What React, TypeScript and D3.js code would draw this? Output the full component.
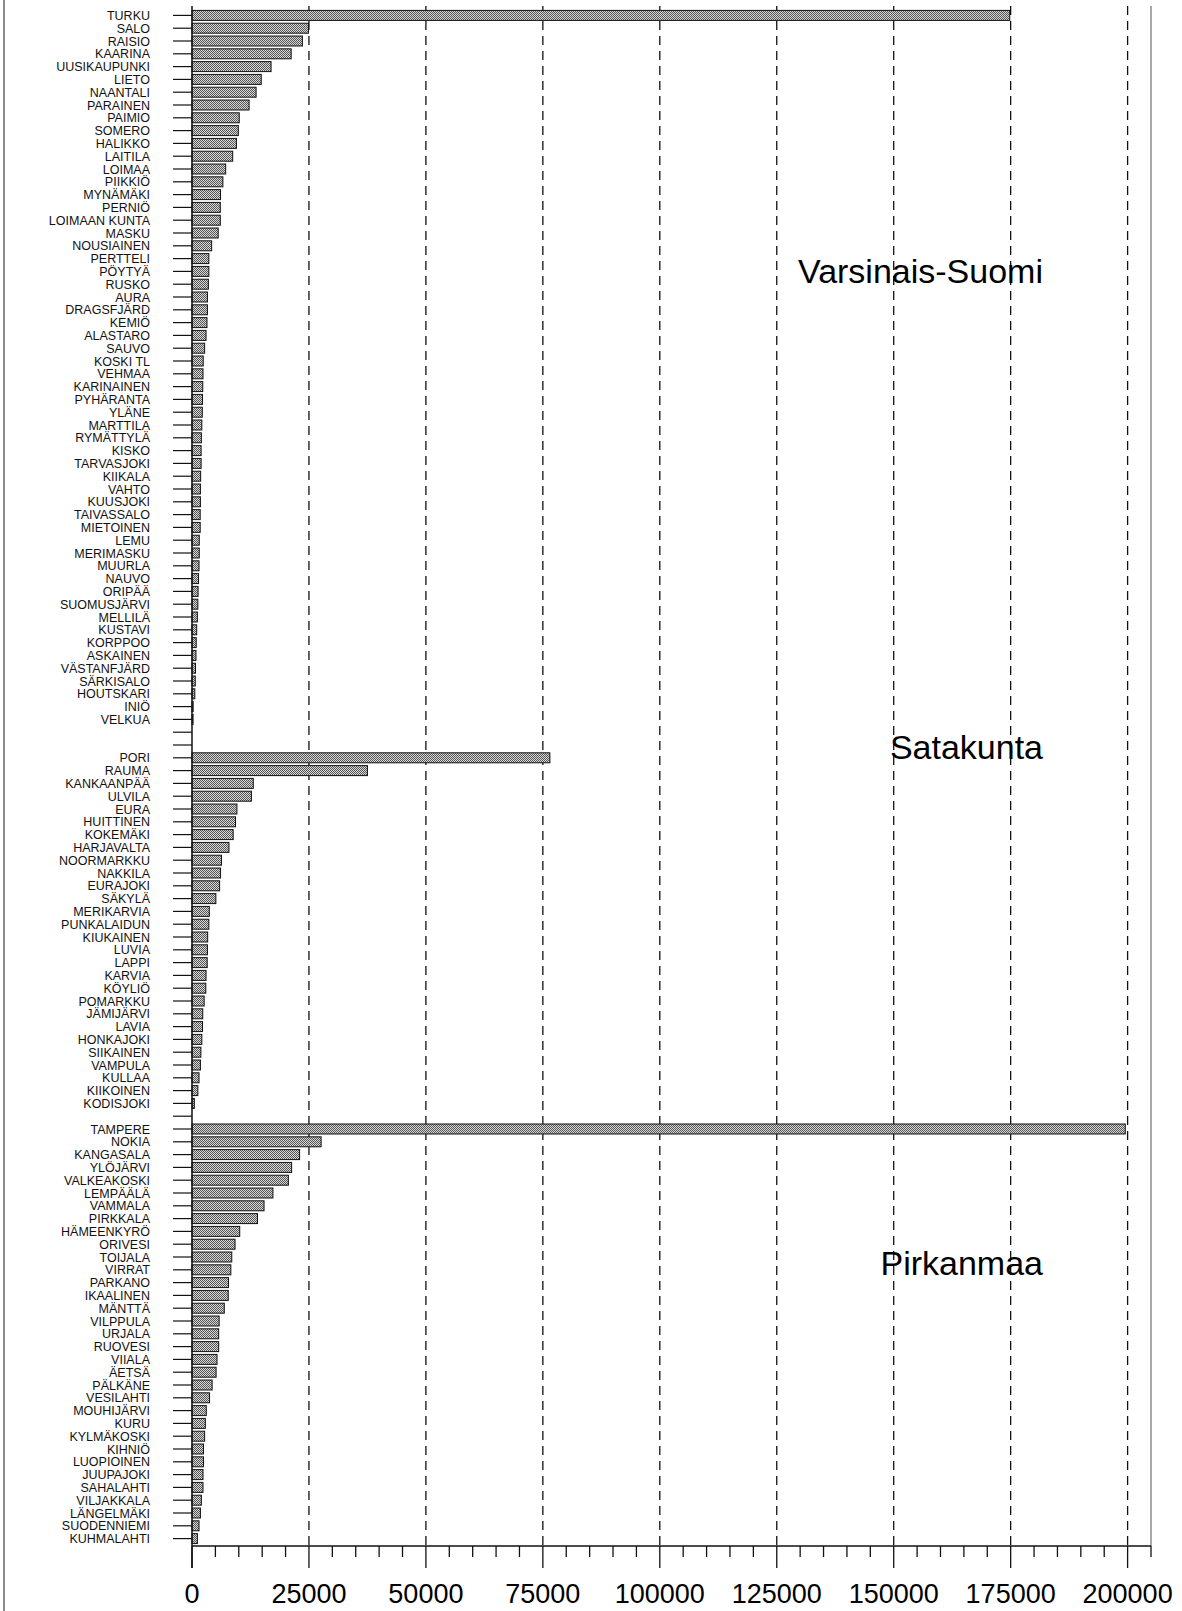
import * as d3 from "d3";

// Kunnat ja väkiluvut maakunnittain (luettu kuvasta)
const vsNames = [
  "TURKU", "SALO", "RAISIO", "KAARINA", "UUSIKAUPUNKI", "LIETO", "NAANTALI", "PARAINEN",
  "PAIMIO", "SOMERO", "HALIKKO", "LAITILA", "LOIMAA", "PIIKKIÖ", "MYNÄMÄKI", "PERNIÖ",
  "LOIMAAN KUNTA", "MASKU", "NOUSIAINEN", "PERTTELI", "PÖYTYÄ", "RUSKO", "AURA", "DRAGSFJÄRD",
  "KEMIÖ", "ALASTARO", "SAUVO", "KOSKI TL", "VEHMAA", "KARINAINEN", "PYHÄRANTA", "YLÄNE",
  "MARTTILA", "RYMÄTTYLÄ", "KISKO", "TARVASJOKI", "KIIKALA", "VAHTO", "KUUSJOKI", "TAIVASSALO",
  "MIETOINEN", "LEMU", "MERIMASKU", "MUURLA", "NAUVO", "ORIPÄÄ", "SUOMUSJÄRVI", "MELLILÄ",
  "KUSTAVI", "KORPPOO", "ASKAINEN", "VÄSTANFJÄRD", "SÄRKISALO", "HOUTSKARI", "INIÖ", "VELKUA",
];
const vsValues = [
  174800, 24900, 23600, 21200, 16900, 14800, 13700, 12200,
  10100, 9900, 9500, 8700, 7200, 6600, 6100, 6050,
  6050, 5600, 4200, 3600, 3600, 3500, 3300, 3300,
  3200, 3000, 2700, 2400, 2350, 2300, 2250, 2200,
  2100, 2000, 1950, 1950, 1850, 1800, 1800, 1750,
  1750, 1550, 1550, 1500, 1400, 1300, 1250, 1150,
  1000, 900, 850, 750, 700, 600, 250, 230,
];

const skNames = [
  "PORI", "RAUMA", "KANKAANPÄÄ", "ULVILA", "EURA", "HUITTINEN", "KOKEMÄKI", "HARJAVALTA",
  "NOORMARKKU", "NAKKILA", "EURAJOKI", "SÄKYLÄ", "MERIKARVIA", "PUNKALAIDUN", "KIUKAINEN", "LUVIA",
  "LAPPI", "KARVIA", "KÖYLIÖ", "POMARKKU", "JÄMIJÄRVI", "LAVIA", "HONKAJOKI", "SIIKAINEN",
  "VAMPULA", "KULLAA", "KIIKOINEN", "KODISJOKI",
];
const skValues = [
  76500, 37500, 13100, 12700, 9600, 9300, 8800, 7900,
  6300, 6100, 5900, 5100, 3700, 3600, 3350, 3300,
  3250, 3000, 2950, 2600, 2300, 2250, 2100, 1900,
  1800, 1500, 1250, 500,
];

const pmNames = [
  "TAMPERE", "NOKIA", "KANGASALA", "YLÖJÄRVI", "VALKEAKOSKI", "LEMPÄÄLÄ", "VAMMALA", "PIRKKALA",
  "HÄMEENKYRÖ", "ORIVESI", "TOIJALA", "VIRRAT", "PARKANO", "IKAALINEN", "MÄNTTÄ", "VILPPULA",
  "URJALA", "RUOVESI", "VIIALA", "ÄETSÄ", "PÄLKÄNE", "VESILAHTI", "MOUHIJÄRVI", "KURU",
  "KYLMÄKOSKI", "KIHNIÖ", "LUOPIOINEN", "JUUPAJOKI", "SAHALAHTI", "VILJAKKALA", "LÄNGELMÄKI", "SUODENNIEMI",
  "KUHMALAHTI",
];
const pmValues = [
  199500, 27600, 23000, 21300, 20600, 17300, 15400, 14000,
  10200, 9200, 8500, 8300, 7800, 7750, 6900, 5800,
  5700, 5700, 5350, 5150, 4300, 3750, 3050, 2850,
  2700, 2450, 2450, 2350, 2350, 2000, 1800, 1500,
  1150,
];

const regionLabels = ["Varsinais-Suomi", "Satakunta", "Pirkanmaa"];
const xTickLabels = [0, 25000, 50000, 75000, 100000, 125000, 150000, 175000, 200000];

type Row = { key: string; label: string; value: number | null };

const rows: Row[] = [
  ...vsNames.map((n, i) => ({ key: n, label: n, value: vsValues[i] })),
  { key: "_b1", label: "", value: null },
  { key: "_b2", label: "", value: null },
  ...skNames.map((n, i) => ({ key: n, label: n, value: skValues[i] })),
  { key: "_b3", label: "", value: null },
  ...pmNames.map((n, i) => ({ key: n, label: n, value: pmValues[i] })),
];

const W = 1182;
const H = 1611;
const FONT = "'Liberation Sans', Arial, sans-serif";

export default function App() {
  const x = d3.scaleLinear().domain([0, 205000]).range([192, 1151]);
  const y = d3
    .scaleBand<string>()
    .domain(rows.map((r) => r.key))
    .range([9, 1545])
    .paddingInner(0.22)
    .paddingOuter(0.11);
  const bw = y.bandwidth();
  const axisY = 1546;
  const plotTop = 6;
  const minorTicks = d3.range(0, 205001, 5000);
  const cy = (k: string) => (y(k) ?? 0) + bw / 2;

  return (
    <div style={{ position: "absolute", left: 0, top: 0 }}>
      <svg width={W} height={H} style={{ display: "block", background: "#fff" }}>
        <defs>
          <pattern id="hatch" width="2" height="2" patternUnits="userSpaceOnUse">
            <rect width="2" height="2" fill="#d8d8d8" />
            <rect width="1" height="1" fill="#555" />
            <rect x="1" y="1" width="1" height="1" fill="#555" />
          </pattern>
        </defs>

        {/* page frame, left */}
        <line x1={4} x2={4} y1={0} y2={H} stroke="#666" strokeWidth={1.5} />

        {/* dashed gridlines */}
        {xTickLabels.slice(1).map((v) => (
          <line
            key={v}
            x1={x(v)}
            x2={x(v)}
            y1={plotTop}
            y2={axisY}
            stroke="#111"
            strokeWidth={1.3}
            strokeDasharray="9,6"
          />
        ))}
        {/* right plot edge */}
        <line x1={1151} x2={1151} y1={plotTop} y2={axisY} stroke="#555" strokeWidth={1} />

        {/* category ticks + labels */}
        {rows.map((r) => (
          <g key={r.key}>
            <line x1={173} x2={192} y1={cy(r.key)} y2={cy(r.key)} stroke="#111" strokeWidth={1.2} />
            {r.label && (
              <text
                x={150}
                y={cy(r.key) + 4.5}
                textAnchor="end"
                fontFamily={FONT}
                fontSize={12.5}
                fill="#111"
              >
                {r.label}
              </text>
            )}
          </g>
        ))}

        {/* bars */}
        {rows
          .filter((r) => r.value !== null)
          .map((r) => (
            <rect
              key={r.key}
              x={x(0)}
              y={y(r.key)}
              width={x(r.value as number) - x(0)}
              height={bw}
              fill="url(#hatch)"
              stroke="#111"
              strokeWidth={1}
            />
          ))}

        {/* value axis */}
        <line x1={192} x2={192} y1={plotTop} y2={axisY + 22} stroke="#111" strokeWidth={1.5} />
        <line x1={x(0)} x2={1151} y1={axisY} y2={axisY} stroke="#111" strokeWidth={1.5} />
        {minorTicks.map((v) => {
          const major = v % 25000 === 0;
          return (
            <line
              key={v}
              x1={x(v)}
              x2={x(v)}
              y1={axisY}
              y2={axisY + (major ? 22 : 11)}
              stroke="#111"
              strokeWidth={1.3}
            />
          );
        })}
        {xTickLabels.map((v) => (
          <text
            key={v}
            x={x(v)}
            y={1603}
            textAnchor="middle"
            fontFamily={FONT}
            fontSize={27}
            fill="#000"
          >
            {v}
          </text>
        ))}

        {/* region names */}
        <text x={1043} y={cy("PÖYTYÄ") + 12} textAnchor="end" fontFamily={FONT} fontSize={34} fill="#000">
          {regionLabels[0]}
        </text>
        <text x={1043} y={cy("_b2") + 14} textAnchor="end" fontFamily={FONT} fontSize={34} fill="#000">
          {regionLabels[1]}
        </text>
        <text x={1043} y={cy("PARKANO") - 8} textAnchor="end" fontFamily={FONT} fontSize={34} fill="#000">
          {regionLabels[2]}
        </text>
      </svg>
    </div>
  );
}
